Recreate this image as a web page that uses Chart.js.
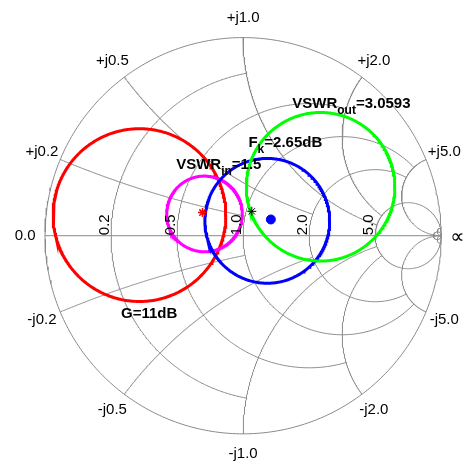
<!DOCTYPE html>
<html>
<head>
<meta charset="utf-8">
<script src="https://cdn.jsdelivr.net/npm/chart.js@4/dist/chart.umd.min.js"></script>
<style>
  html, body { margin: 0; padding: 0; background: #fff; }
  #wrap { width: 471px; height: 472px; }
</style>
</head>
<body>
<div id="wrap"><canvas id="smith" width="471" height="472"></canvas></div>
<script>
// Smith chart grid values (normalised impedance) and where each line stops
const resistanceGrid = [0.2, 0.5, 1, 2, 5, 50];
const resistanceStop = [1, 2, 5, 5, Infinity, Infinity];   // max |x| drawn
const reactanceGrid = [0.2, 0.5, 1, 2, 5, 50];
const reactanceStop = [1, 2, 5, 5, Infinity, Infinity];    // max r drawn
const resistanceTicks = [0.2, 0.5, 1, 2, 5];
const reactanceTicks = [0.2, 0.5, 1, 2, 5];

// Design circles in the reflection-coefficient plane
const circleMain = ['G=11dB', 'VSWR', 'F', 'VSWR'];
const circleSub = ['', 'in', 'k', 'out'];
const circleRest = ['', '=1.5', '=2.65dB', '=3.0593'];
const circleCenterRe = [-0.523, -0.195, 0.122, 0.391];
const circleCenterIm = [0.104, 0.110, 0.075, 0.247];
const circleRadius = [0.436, 0.191, 0.315, 0.375];

// Marked reflection coefficients
const gammaSource = [-0.205, 0.117];
const gammaLoad = [0.044, 0.123];
const gammaOpt = [0.140, 0.082];

// ---- drawing setup ----
const circleColors = ['#ff0000', '#ff00ff', '#0000ff', '#00ff00'];
const circleDrawOrder = [4, 3, 2, 1];
// label anchors (left end, baseline) in the gamma plane
const labelAnchors = [[-0.616, -0.416], [-0.338, 0.338], [0.027, 0.446], [0.248, 0.644]];
const GRID = '#8a8a8a';
const STEPS = 360;

function gammaOf(r, x) {
  const d = (r + 1) * (r + 1) + x * x;
  return [(r * r + x * x - 1) / d, (2 * x) / d];
}

function circlePoints(cx, cy, rad) {
  const pts = [];
  for (let i = 0; i <= STEPS; i++) {
    const a = (i / STEPS) * 2 * Math.PI;
    pts.push({ x: cx + rad * Math.cos(a), y: cy + rad * Math.sin(a) });
  }
  return pts;
}

// constant-reactance arc, resistance swept from 0 up to rMax
function reactancePoints(xv, rMax) {
  const pts = [];
  const tEnd = Math.atan(rMax);
  for (let i = 0; i <= STEPS; i++) {
    const t = (i / STEPS) * tEnd;
    if (t >= Math.PI / 2 - 1e-12) { pts.push({ x: 1, y: 0 }); continue; }
    const g = gammaOf(Math.tan(t), xv);
    pts.push({ x: g[0], y: g[1] });
  }
  return pts;
}

// constant-resistance circle, reactance swept over [-xMax, xMax]
function resistancePoints(rv, xMax) {
  if (!isFinite(xMax)) return circlePoints(rv / (1 + rv), 0, 1 / (1 + rv));
  const pts = [];
  const tEnd = Math.atan(xMax);
  for (let i = 0; i <= STEPS; i++) {
    const t = -tEnd + (2 * i / STEPS) * tEnd;
    const g = gammaOf(rv, Math.tan(t));
    pts.push({ x: g[0], y: g[1] });
  }
  return pts;
}

function lineSet(data, color, width, order) {
  return {
    type: 'scatter', data, showLine: true, fill: false, tension: 0,
    borderColor: color, borderWidth: width, pointRadius: 0, order
  };
}

const datasets = [];
// outer boundary and real axis
datasets.push(lineSet(circlePoints(0, 0, 1), GRID, 1, 20));
datasets.push(lineSet([{ x: -1, y: 0 }, { x: 1, y: 0 }], GRID, 1, 20));
resistanceGrid.forEach((r, i) => {
  datasets.push(lineSet(resistancePoints(r, resistanceStop[i]), GRID, 1, 20));
});
reactanceGrid.forEach((xv, i) => {
  datasets.push(lineSet(reactancePoints(xv, reactanceStop[i]), GRID, 1, 20));
  datasets.push(lineSet(reactancePoints(-xv, reactanceStop[i]), GRID, 1, 20));
});
// design circles
for (let i = 0; i < circleRadius.length; i++) {
  datasets.push(lineSet(circlePoints(circleCenterRe[i], circleCenterIm[i], circleRadius[i]),
    circleColors[i], 3, circleDrawOrder[i]));
}
// markers
datasets.push({ type: 'scatter', data: [{ x: gammaSource[0], y: gammaSource[1] }],
  pointStyle: 'star', pointRadius: 4.5, borderColor: '#ff0000', borderWidth: 1.5, order: 0 });
datasets.push({ type: 'scatter', data: [{ x: gammaLoad[0], y: gammaLoad[1] }],
  pointStyle: 'star', pointRadius: 4.5, borderColor: '#000000', borderWidth: 1, order: 0 });
datasets.push({ type: 'scatter', data: [{ x: gammaOpt[0], y: gammaOpt[1] }],
  pointStyle: 'circle', pointRadius: 4.5, backgroundColor: '#0000ff', borderColor: '#0000ff',
  borderWidth: 1, order: 0 });

const FONT = '"Liberation Sans", Arial, Helvetica, sans-serif';

const smithLabels = {
  id: 'smithLabels',
  afterDatasetsDraw(chart) {
    const { ctx, scales: { x, y } } = chart;
    const px = v => x.getPixelForValue(v);
    const py = v => y.getPixelForValue(v);
    ctx.save();
    ctx.fillStyle = '#000';
    ctx.font = '15px ' + FONT;
    ctx.textAlign = 'center';
    ctx.textBaseline = 'middle';

    // reactance labels around the rim
    for (const xv of reactanceTicks) {
      for (const s of [1, -1]) {
        const g = gammaOf(0, s * xv);
        ctx.fillText((s > 0 ? '+j' : '-j') + xv.toFixed(1), px(1.1 * g[0]), py(1.1 * g[1]));
      }
    }
    ctx.fillText('0.0', px(-1.1), py(0));
    ctx.font = '20px "DejaVu Sans", sans-serif';
    ctx.fillText('\u221D', px(1.082), py(-0.012));

    // resistance labels along the real axis
    ctx.font = '15px ' + FONT;
    for (const rv of resistanceTicks) {
      const left = (rv - 1) / (rv + 1);
      ctx.save();
      ctx.translate(px(left) - 2.5, py(0) - 0.5);
      ctx.rotate(-Math.PI / 2);
      ctx.textAlign = 'left';
      ctx.textBaseline = 'alphabetic';
      ctx.fillText(rv.toFixed(1), 0, 0);
      ctx.restore();
    }

    // design-circle annotations
    ctx.textAlign = 'left';
    ctx.textBaseline = 'alphabetic';
    for (let i = 0; i < circleMain.length; i++) {
      let cx = px(labelAnchors[i][0]);
      const cy = py(labelAnchors[i][1]);
      ctx.font = 'bold 15px ' + FONT;
      ctx.fillText(circleMain[i], cx, cy);
      cx += ctx.measureText(circleMain[i]).width;
      if (circleSub[i]) {
        ctx.font = 'bold 12px ' + FONT;
        ctx.fillText(circleSub[i], cx, cy + 6);
        cx += ctx.measureText(circleSub[i]).width;
      }
      if (circleRest[i]) {
        ctx.font = 'bold 15px ' + FONT;
        ctx.fillText(circleRest[i], cx, cy);
      }
    }
    ctx.restore();
  }
};

new Chart(document.getElementById('smith'), {
  type: 'scatter',
  data: { datasets },
  options: {
    responsive: false,
    animation: false,
    events: [],
    layout: { padding: 0 },
    plugins: { legend: { display: false }, tooltip: { enabled: false } },
    scales: {
      x: { type: 'linear', min: -1.1968, max: 1.1200, display: false },
      y: { type: 'linear', min: -1.1623, max: 1.1594, display: false }
    }
  },
  plugins: [smithLabels]
});
</script>
</body>
</html>
